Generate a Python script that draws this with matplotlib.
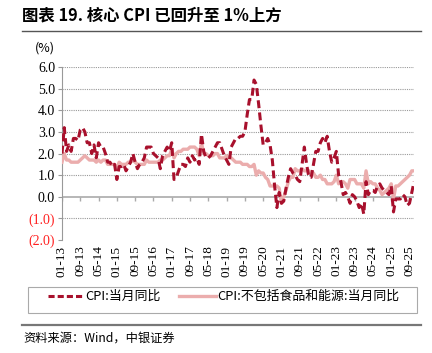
import matplotlib
matplotlib.use("Agg")
import matplotlib.pyplot as plt
import numpy as np

cpi = [
    2.0, 3.2, 2.1, 2.4, 2.1, 2.7, 2.7, 2.6, 3.1, 3.2, 3.0, 2.5,
    2.5, 2.0, 2.4, 1.8, 2.5, 2.3, 2.3, 2.0, 1.6, 1.6, 1.4, 1.5,
    0.8, 1.4, 1.4, 1.5, 1.2, 1.4, 1.6, 2.0, 1.6, 1.3, 1.5, 1.6,
    1.8, 2.3, 2.3, 2.3, 2.0, 1.9, 1.8, 1.3, 1.9, 2.1, 2.3, 2.1,
    2.5, 0.8, 0.9, 1.2, 1.5, 1.5, 1.4, 1.8, 1.6, 1.9, 1.7, 1.8,
    1.5, 2.9, 2.1, 1.8, 1.8, 1.9, 2.1, 2.3, 2.5, 2.5, 2.2, 1.9,
    1.7, 1.5, 2.3, 2.5, 2.7, 2.7, 2.8, 2.8, 3.0, 3.8, 4.5, 4.5,
    5.4, 5.2, 4.3, 3.3, 2.4, 2.5, 2.7, 2.4, 1.7, 0.5, -0.5, 0.2,
    -0.3, -0.2, 0.4, 0.9, 1.3, 1.1, 1.0, 0.8, 0.7, 1.5, 2.3, 1.5,
    0.9, 0.9, 1.5, 2.1, 2.1, 2.5, 2.7, 2.5, 2.8, 2.1, 1.6, 1.8,
    2.1, 1.0, 0.7, 0.1, 0.2, 0.0, -0.3, 0.1, 0.0, -0.2, -0.5, -0.3,
    -0.8, 0.7, 0.1, 0.3, 0.3, 0.2, 0.5, 0.6, 0.4, 0.3, 0.2, 0.1,
    0.5, -0.7, -0.1, -0.1, -0.1, 0.1, 0.0, -0.4, -0.3, 0.2, 0.7,
]
core = [
    1.6, 2.0, 1.7, 1.7, 1.6, 1.6, 1.6, 1.6, 1.7, 1.8, 1.9, 1.8,
    1.7, 1.7, 1.7, 1.6, 1.7, 1.6, 1.7, 1.7, 1.5, 1.5, 1.5, 1.5,
    1.3, 1.6, 1.5, 1.5, 1.5, 1.6, 1.6, 1.7, 1.6, 1.5, 1.5, 1.5,
    1.5, 1.7, 1.6, 1.6, 1.6, 1.6, 1.6, 1.7, 1.7, 1.8, 1.9, 1.9,
    2.2, 1.8, 2.0, 2.1, 2.1, 2.2, 2.2, 2.2, 2.3, 2.3, 2.3, 2.2,
    1.9, 2.5, 2.0, 2.0, 1.9, 1.9, 1.9, 2.0, 2.0, 1.8, 1.8, 1.8,
    1.9, 1.8, 1.8, 1.7, 1.6, 1.6, 1.6, 1.5, 1.5, 1.5, 1.4, 1.4,
    1.5, 1.0, 1.2, 1.1, 1.1, 0.9, 0.8, 0.5, 0.5, 0.5, 0.5, 0.4,
    -0.3, 0.0, 0.3, 0.7, 0.9, 0.9, 1.3, 1.2, 1.2, 1.3, 1.2, 1.2,
    1.2, 1.1, 1.1, 0.9, 0.9, 1.0, 0.8, 0.8, 0.6, 0.6, 0.6, 0.7,
    1.0, 0.6, 0.7, 0.7, 0.6, 0.4, 0.8, 0.8, 0.8, 0.6, 0.6, 0.6,
    0.4, 1.2, 0.6, 0.7, 0.6, 0.6, 0.4, 0.3, 0.1, 0.2, 0.3, 0.4,
    0.6, -0.1, 0.5, 0.5, 0.6, 0.7, 0.8, 0.9, 1.0, 1.2, 1.2,
]
tick_labels = ["01-13", "09-13", "05-14", "01-15", "09-15", "05-16", "01-17",
               "09-17", "05-18", "01-19", "09-19", "05-20", "01-21", "09-21",
               "05-22", "01-23", "09-23", "05-24", "01-25", "09-25"]
yticks = [-2, -1, 0, 1, 2, 3, 4, 5, 6]

cjk = ["Noto Sans CJK SC", "DejaVu Sans"]
serif = ["Liberation Serif", "DejaVu Serif"]

fig = plt.figure(figsize=(4.32, 3.53), dpi=100)
ax = fig.add_axes([0.1435, 0.32, 0.815, 0.49])

x = np.arange(len(cpi))
tick_pos = np.arange(len(tick_labels)) * 8

ax.plot(x, core, color="#EBADAD", lw=2.4, solid_joinstyle="round", zorder=3)
ax.plot(x, cpi, color="#A8102C", lw=2.2, linestyle=(0, (2.6, 1.4)), zorder=4)

ax.set_xlim(0, len(cpi) - 1)
ax.set_ylim(-2, 6)
ax.set_yticks(yticks)
ylabels = []
for v in yticks:
    ylabels.append(f"({abs(v):.1f})" if v < 0 else f"{v:.1f}")
ax.set_yticklabels(ylabels, fontfamily=serif, fontsize=10)
for lab, v in zip(ax.get_yticklabels(), yticks):
    if v < 0:
        lab.set_color("#FF2020")
ax.tick_params(axis="y", direction="out", length=3, color="#999999", pad=2)

ax.set_xticks(tick_pos)
ax.set_xticklabels(tick_labels, rotation=90, fontfamily=serif, fontsize=9.5)
ax.tick_params(axis="x", length=0, pad=4)

for v in yticks[1:]:
    if v != 0:
        ax.axhline(v, color="#999999", lw=0.8, linestyle=(0, (1, 1)), zorder=1)
ax.axhline(0, color="#AAAAAA", lw=1.2, zorder=2)
ax.vlines(tick_pos, -0.18, 0, color="#AAAAAA", lw=1.0, zorder=2)

for s in ["top", "right", "bottom"]:
    ax.spines[s].set_visible(False)
ax.spines["left"].set_color("#999999")
ax.spines["left"].set_linewidth(0.8)

# title and decorations
fig.text(0.05, 0.955, "图表 19. 核心 CPI 已回升至 1%上方", fontfamily=cjk,
         fontsize=11.8, fontweight="bold", va="center", ha="left")
fig.add_artist(plt.Line2D([0.05, 0.975], [0.912, 0.912], color="#555555", lw=1.0))
fig.text(0.08, 0.865, "(%)", fontfamily=cjk, fontsize=9, va="center", ha="left")
fig.add_artist(plt.Line2D([0.05, 0.975], [0.08, 0.08], color="#777777", lw=1.6))
fig.text(0.055, 0.042, "资料来源：Wind，中银证券", fontfamily=cjk, fontsize=8.8,
         style="italic", va="center", ha="left")

# legend box
fig.add_artist(plt.Rectangle((0.065, 0.112), 0.9, 0.075, transform=fig.transFigure,
                             fill=False, edgecolor="#AAAAAA", lw=0.8))
fig.add_artist(plt.Line2D([0.11, 0.195], [0.161, 0.161], color="#A8102C", lw=2.2,
                          linestyle=(0, (2.0, 1.0))))
fig.text(0.198, 0.161, "CPI:当月同比", fontfamily=cjk, fontsize=9.3, va="center")
fig.add_artist(plt.Line2D([0.415, 0.5], [0.161, 0.161], color="#EBADAD", lw=2.4))
fig.text(0.503, 0.161, "CPI:不包括食品和能源:当月同比", fontfamily=cjk, fontsize=9.3,
         va="center")

fig.savefig("out.png", dpi=100)
